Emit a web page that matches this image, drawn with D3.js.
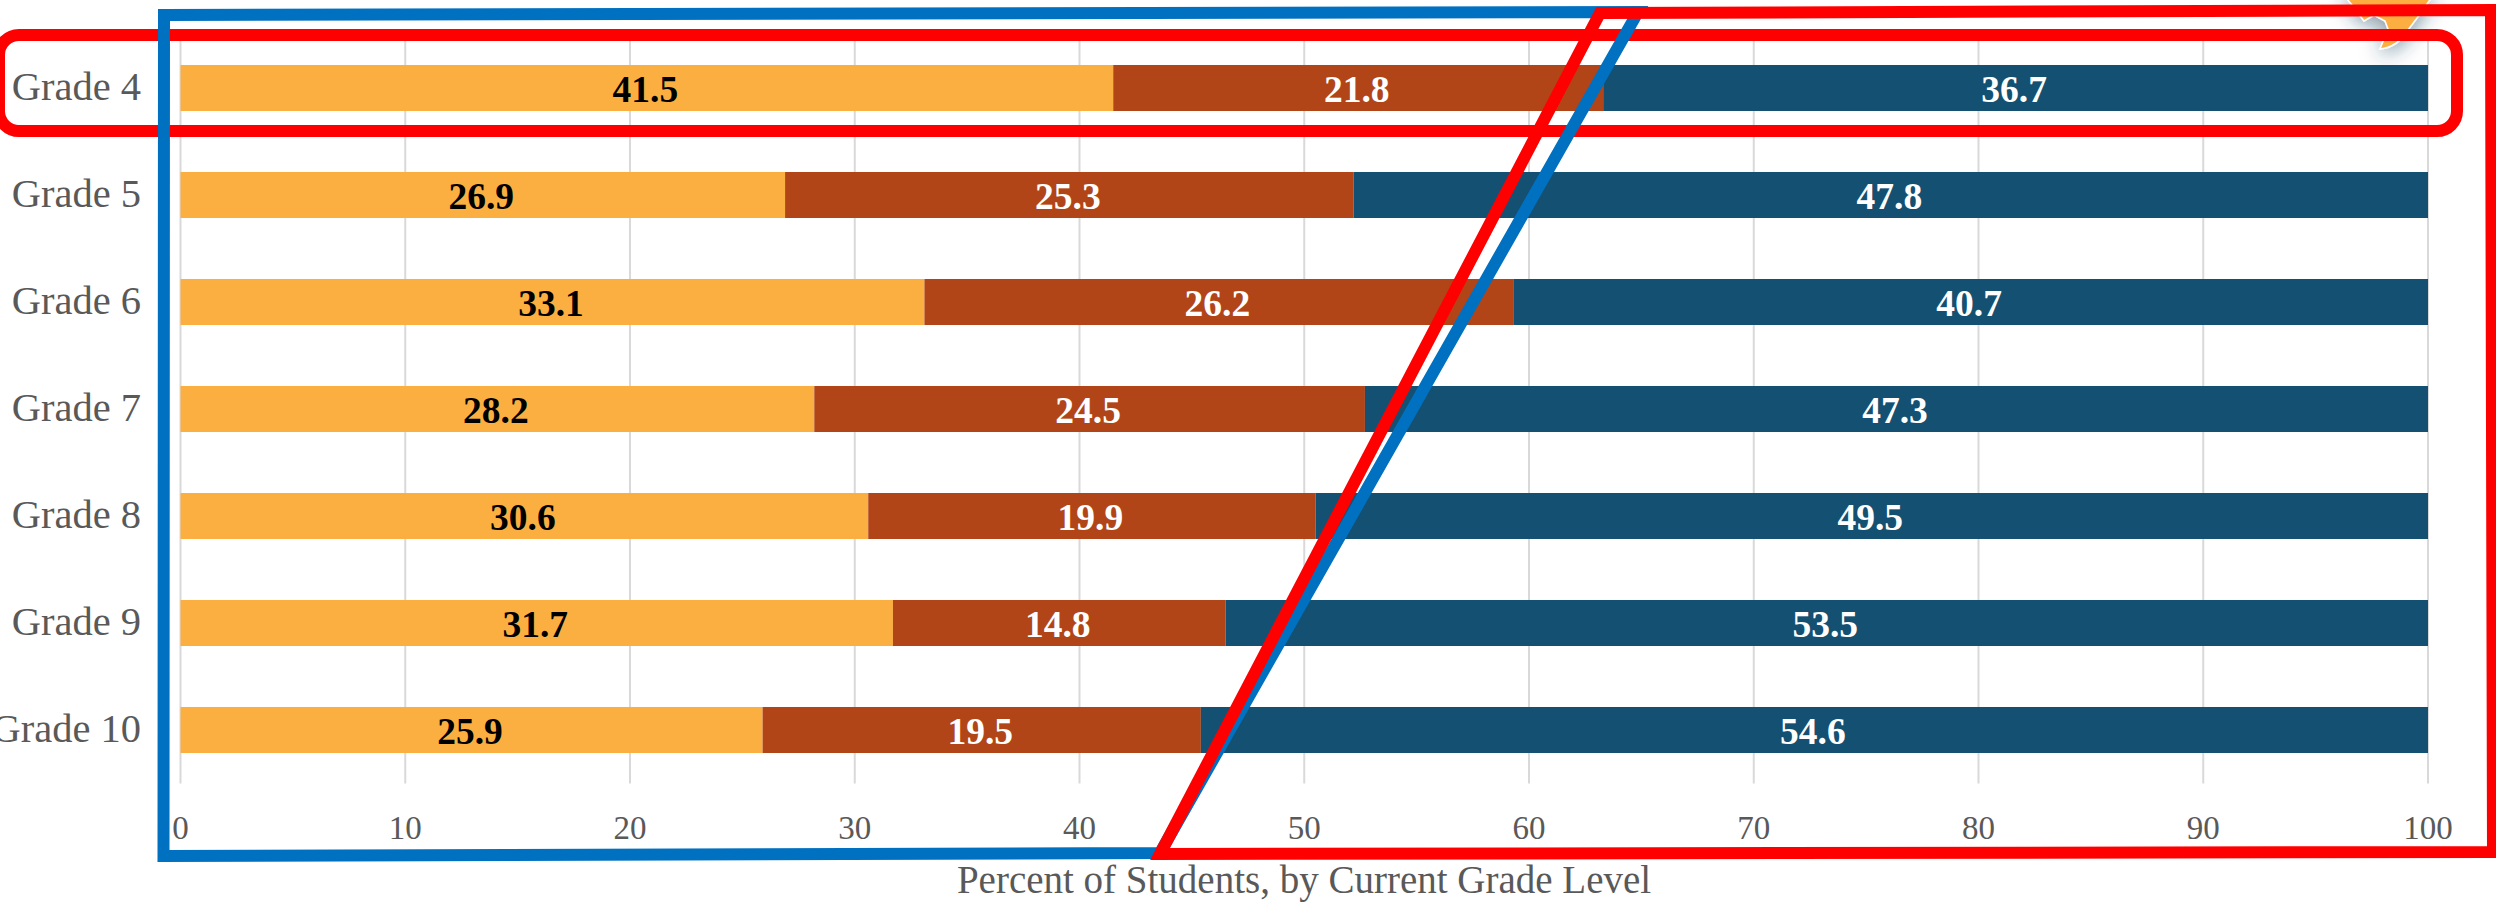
<!DOCTYPE html>
<html>
<head>
<meta charset="utf-8">
<script src="https://cdn.jsdelivr.net/npm/d3@7"></script>
<style>
  html, body { margin: 0; padding: 0; background: #fff; overflow: hidden; }
  svg { display: block; }
  text { font-family: "Liberation Serif", serif; }
</style>
</head>
<body>
<svg id="chart" width="2496" height="909"></svg>
<script>
// values
const grades = ["Grade 4", "Grade 5", "Grade 6", "Grade 7", "Grade 8", "Grade 9", "Grade 10"];
const seriesNames = ["first", "second", "third"];
const first = [41.5, 26.9, 33.1, 28.2, 30.6, 31.7, 25.9];
const second = [21.8, 25.3, 26.2, 24.5, 19.9, 14.8, 19.5];
const third = [36.7, 47.8, 40.7, 47.3, 49.5, 53.5, 54.6];
const xTicks = [0, 10, 20, 30, 40, 50, 60, 70, 80, 90, 100];
const xTitle = "Percent of Students, by Current Grade Level";

const colors = ["#fcaf41", "#b14518", "#135071"];
const labelColors = ["#000", "#fff", "#fff"];
const gridColor = "#d9d9d9";
const textColor = "#595959";

const svg = d3.select("#chart");

const x = d3.scaleLinear().domain([0, 100]).range([180.5, 2428]);
const y = d3.scaleBand().domain(grades).range([34.5, 783.5]).paddingInner(0.57).paddingOuter(0.285);

const rows = grades.map((g, i) => ({ grade: g, first: first[i], second: second[i], third: third[i] }));
const stacked = d3.stack().keys(seriesNames)(rows);

// gridlines + x tick labels
const xAxis = svg.append("g")
  .attr("transform", "translate(-0.5,783.5)")
  .call(d3.axisBottom(x).tickValues(xTicks).tickSize(-749).tickSizeOuter(0));
xAxis.select(".domain").remove();
xAxis.selectAll("line").attr("stroke", gridColor).attr("stroke-width", 2);
xAxis.selectAll("text")
  .attr("y", 55.5)
  .attr("dy", 0)
  .attr("fill", textColor)
  .attr("font-size", 33)
  .attr("font-family", "Liberation Serif");

// grade labels
const yAxis = svg.append("g")
  .attr("transform", "translate(141,0)")
  .call(d3.axisLeft(y).tickSize(0).tickPadding(0));
yAxis.select(".domain").remove();
yAxis.selectAll("text")
  .attr("dy", 12)
  .attr("fill", textColor)
  .attr("font-size", 40.5)
  .attr("font-family", "Liberation Serif");

// bars
const layers = svg.append("g").selectAll("g")
  .data(stacked)
  .enter()
  .append("g")
  .attr("fill", (d, i) => colors[i]);

layers.selectAll("rect")
  .data((d) => d)
  .enter()
  .append("rect")
  .attr("x", (d) => x(d[0]))
  .attr("y", (d) => y(d.data.grade))
  .attr("width", (d) => x(d[1]) - x(d[0]))
  .attr("height", y.bandwidth());

// bar labels
layers.selectAll("text")
  .data((d, i) => d.map((p) => ({ p: p, i: i })))
  .enter()
  .append("text")
  .attr("x", (d) => x((d.p[0] + d.p[1]) / 2) - 1.5)
  .attr("y", (d) => y(d.p.data.grade) + y.bandwidth() / 2 + 14)
  .attr("text-anchor", "middle")
  .attr("font-size", 37.5)
  .attr("font-weight", "bold")
  .attr("fill", (d) => labelColors[d.i])
  .text((d) => d3.format(".1f")(d.p[1] - d.p[0]));

// axis title
svg.append("text")
  .attr("x", 1304)
  .attr("y", 893)
  .attr("text-anchor", "middle")
  .attr("font-size", 39)
  .attr("fill", textColor)
  .text(xTitle);

// annotations drawn over the chart (flame in the corner, then the outlines)
const defs = svg.append("defs");
const shadow = defs.append("filter").attr("id", "shadow")
  .attr("x", "-40%").attr("y", "-40%").attr("width", "180%").attr("height", "180%");
shadow.append("feDropShadow")
  .attr("dx", 0).attr("dy", 4).attr("stdDeviation", 10)
  .attr("flood-color", "#123a55").attr("flood-opacity", 0.55);

svg.append("path")
  .attr("d", "M2343,-6 L2352,5 L2364,21 L2374,15 L2385,21 L2388,29 L2380,49 Q2398,47 2408,30 L2420,14 L2434,-6 Z")
  .attr("fill", colors[0])
  .attr("stroke", "#fff")
  .attr("stroke-width", 1.5)
  .attr("filter", "url(#shadow)");

svg.append("rect")
  .attr("x", -1).attr("y", 35)
  .attr("width", 2458).attr("height", 96)
  .attr("rx", 20)
  .attr("fill", "none")
  .attr("stroke", "#ff0000")
  .attr("stroke-width", 12);

const outline = d3.line();

svg.append("path")
  .attr("d", outline([[164, 15], [1638, 12], [1160, 853], [163.5, 856]]) + "Z")
  .attr("fill", "none")
  .attr("stroke", "#0070c0")
  .attr("stroke-width", 12);

svg.append("path")
  .attr("d", outline([[1600, 13], [2491, 10], [2493, 852], [1160, 854]]) + "Z")
  .attr("fill", "none")
  .attr("stroke", "#ff0000")
  .attr("stroke-width", 12);
</script>
</body>
</html>
